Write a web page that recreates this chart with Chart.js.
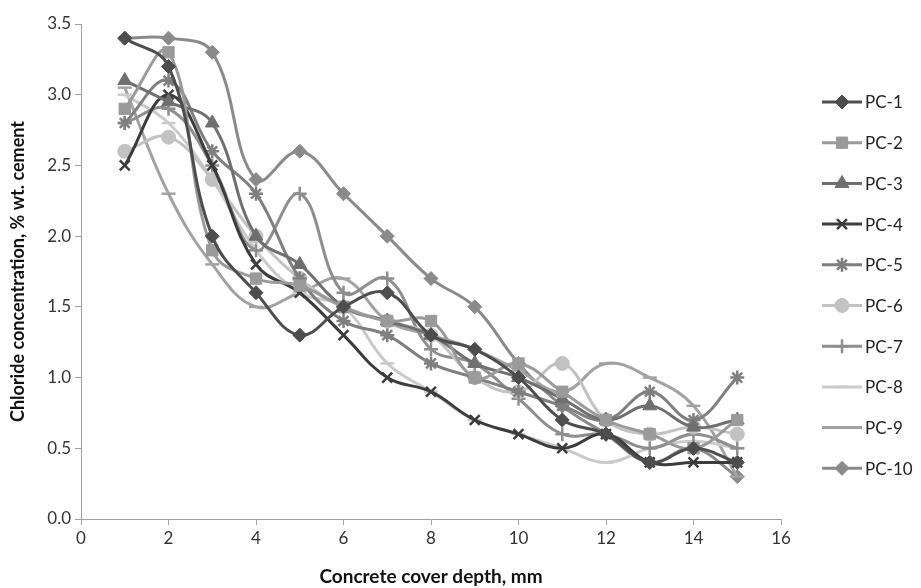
<!DOCTYPE html>
<html>
<head>
<meta charset="utf-8">
<title>Chloride profiles</title>
<script src="https://cdn.jsdelivr.net/npm/chart.js@4/dist/chart.umd.min.js"></script>
<style>
  html, body { margin: 0; padding: 0; background: #fff; }
  #wrap { width: 921px; height: 588px; position: relative; }
</style>
</head>
<body>
<div id="wrap"><canvas id="chart"></canvas></div>
<script>
// Sampling depths (mm) and chloride content per core
const depths = [1, 2, 3, 4, 5, 6, 7, 8, 9, 10, 11, 12, 13, 14, 15];
const pc1  = [3.4, 3.2, 2.0, 1.6, 1.3, 1.5, 1.6, 1.3, 1.2, 1.0, 0.7, 0.6, 0.4, 0.5, 0.4];
const pc2  = [2.9, 3.3, 1.9, 1.7, 1.65, 1.5, 1.4, 1.4, 1.0, 1.1, 0.9, 0.7, 0.6, 0.5, 0.7];
const pc3  = [3.1, 2.95, 2.8, 2.0, 1.8, 1.5, 1.4, 1.3, 1.1, 1.0, 0.85, 0.7, 0.8, 0.65, 0.7];
const pc4  = [2.5, 3.0, 2.5, 1.8, 1.6, 1.3, 1.0, 0.9, 0.7, 0.6, 0.5, 0.6, 0.4, 0.4, 0.4];
const pc5  = [2.8, 3.1, 2.6, 2.3, 1.7, 1.4, 1.3, 1.1, 1.0, 0.9, 0.8, 0.7, 0.9, 0.7, 1.0];
const pc6  = [2.6, 2.7, 2.4, 2.0, 1.7, 1.5, 1.4, 1.3, 1.0, 0.9, 1.1, 0.7, 0.6, 0.65, 0.6];
const pc7  = [2.8, 2.9, 2.5, 1.9, 2.3, 1.6, 1.7, 1.2, 1.1, 0.85, 0.6, 0.6, 0.5, 0.6, 0.5];
const pc8  = [3.0, 2.8, 2.4, 1.9, 1.6, 1.5, 1.1, 0.9, 0.7, 0.6, 0.5, 0.4, 0.5, 0.55, 0.5];
const pc9  = [3.05, 2.3, 1.8, 1.5, 1.6, 1.7, 1.4, 1.3, 1.2, 1.05, 0.9, 1.1, 1.0, 0.8, 0.3];
const pc10 = [3.4, 3.4, 3.3, 2.4, 2.6, 2.3, 2.0, 1.7, 1.5, 1.1, 0.8, 0.6, 0.4, 0.5, 0.3];

const xTicks = [0, 2, 4, 6, 8, 10, 12, 14, 16];
const yTicks = [0, 0.5, 1.0, 1.5, 2.0, 2.5, 3.0, 3.5];

const FONT = "Lato, 'DejaVu Sans Condensed', sans-serif";

function series(label, values, color, pointStyle, radius) {
  const stroked = ['cross', 'crossRot', 'star', 'line'].includes(pointStyle);
  return {
    label: label,
    data: depths.map((d, i) => ({ x: d, y: values[i] })),
    borderColor: color,
    backgroundColor: color,
    pointBackgroundColor: color,
    pointBorderColor: color,
    pointBorderWidth: stroked ? 2.5 : 1,
    borderWidth: 3,
    pointStyle: pointStyle,
    pointRadius: radius,
    tension: 0.4,
    fill: false
  };
}

const datasets = [
  series('PC-1', pc1, '#4d4d4d', 'rectRot', 7),
  series('PC-2', pc2, '#9a9a9a', 'rect', 8),
  series('PC-3', pc3, '#6f6f6f', 'triangle', 8),
  series('PC-4', pc4, '#3c3c3c', 'crossRot', 7),
  series('PC-5', pc5, '#7f7f7f', 'star', 7),
  series('PC-6', pc6, '#c2c2c2', 'circle', 7),
  series('PC-7', pc7, '#8e8e8e', 'cross', 7),
  series('PC-8', pc8, '#cacaca', 'line', 7),
  series('PC-9', pc9, '#a2a2a2', 'line', 7),
  series('PC-10', pc10, '#8a8a8a', 'rectRot', 7)
];

// Legend on the right: short line with the series marker in the middle
const sideLegend = {
  id: 'sideLegend',
  afterDraw(chart) {
    const ctx = chart.ctx;
    const x0 = 822, x1 = 862, top = 102, step = 40.7;
    ctx.save();
    chart.data.datasets.forEach((ds, i) => {
      const y = top + i * step;
      ctx.strokeStyle = ds.borderColor;
      ctx.lineWidth = 3;
      ctx.beginPath();
      ctx.moveTo(x0, y);
      ctx.lineTo(x1, y);
      ctx.stroke();
      ctx.fillStyle = ds.pointBackgroundColor;
      ctx.strokeStyle = ds.pointBorderColor;
      ctx.lineWidth = ds.pointBorderWidth;
      Chart.helpers.drawPoint(ctx, {
        pointStyle: ds.pointStyle,
        radius: ds.pointRadius,
        rotation: 0,
        borderWidth: ds.pointBorderWidth
      }, (x0 + x1) / 2, y);
      ctx.fillStyle = '#222';
      ctx.font = '17px ' + FONT;
      ctx.textAlign = 'left';
      ctx.textBaseline = 'middle';
      ctx.fillText(ds.label, x1 + 3, y + 1);
    });
    ctx.restore();
  }
};

new Chart(document.getElementById('chart').getContext('2d'), {
  type: 'line',
  data: { datasets: datasets },
  options: {
    responsive: true,
    maintainAspectRatio: false,
    animation: false,
    layout: { padding: { top: 24, right: 140, left: 7, bottom: 0 } },
    plugins: {
      legend: { display: false },
      tooltip: { enabled: false }
    },
    scales: {
      x: {
        type: 'linear',
        min: 0,
        max: 16,
        afterBuildTicks: axis => { axis.ticks = xTicks.map(v => ({ value: v })); },
        afterFit: axis => { axis.height = 69; },
        grid: { drawOnChartArea: false, drawTicks: true, tickLength: 6, color: '#a0a0a0' },
        border: { color: '#a0a0a0', width: 1 },
        ticks: { color: '#333', font: { family: FONT, size: 17 }, padding: 3, maxRotation: 0 },
        title: {
          display: true,
          text: 'Concrete cover depth, mm',
          color: '#111',
          font: { family: FONT, size: 19, weight: 'bold' },
          padding: { top: 10, bottom: 0 }
        }
      },
      y: {
        type: 'linear',
        min: 0,
        max: 3.5,
        afterBuildTicks: axis => { axis.ticks = yTicks.map(v => ({ value: v })); },
        afterFit: axis => { axis.width = 74; },
        grid: { drawOnChartArea: false, drawTicks: true, tickLength: 6, color: '#a0a0a0' },
        border: { color: '#a0a0a0', width: 1 },
        ticks: {
          color: '#333',
          font: { family: FONT, size: 17 },
          padding: 4,
          callback: v => Number(v).toFixed(1)
        },
        title: {
          display: true,
          text: 'Chloride concentration, % wt. cement',
          color: '#111',
          font: { family: FONT, size: 18, weight: 'bold' },
          padding: { top: 0, bottom: 4 }
        }
      }
    }
  },
  plugins: [sideLegend]
});
</script>
</body>
</html>
